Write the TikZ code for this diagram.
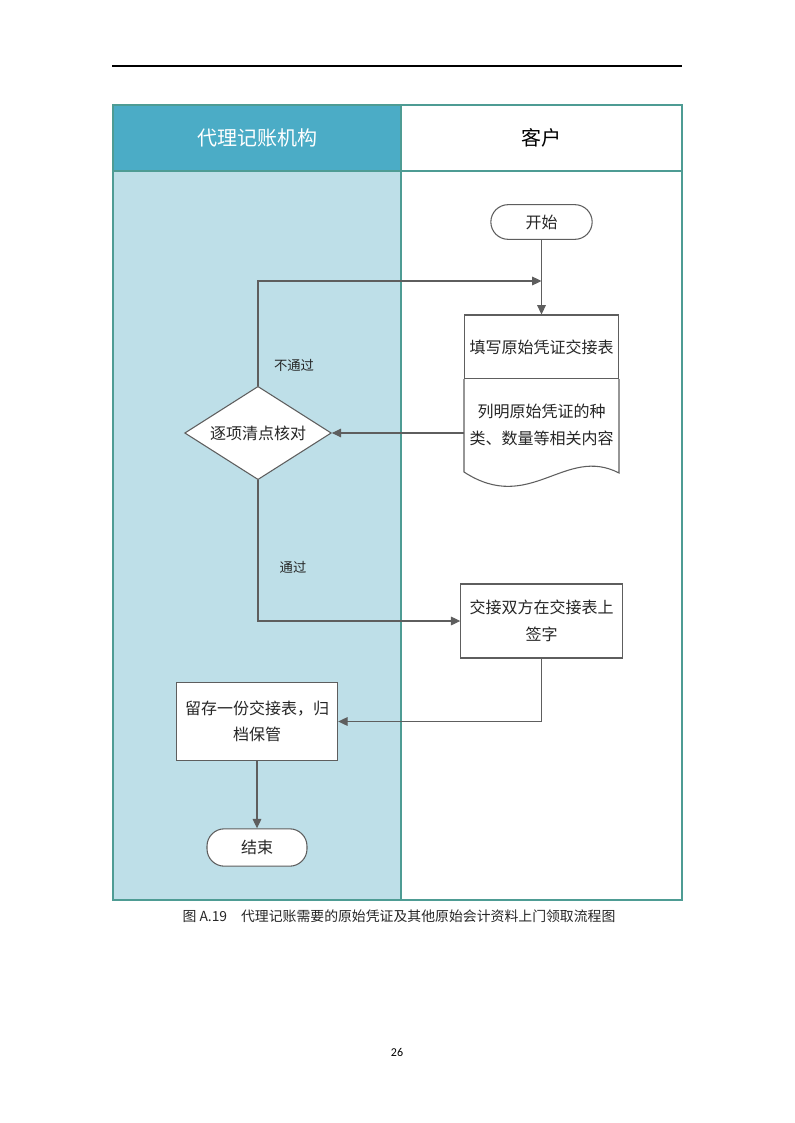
\documentclass[tikz,border=0pt]{standalone}
\usepackage{fontspec}
\setmainfont{Noto Sans CJK SC}
\newfontfamily\pagefont{Carlito}
\usetikzlibrary{shapes.geometric,arrows.meta}
\definecolor{lanedark}{HTML}{4BACC6}
\definecolor{lanelight}{HTML}{BEDFE8}
\definecolor{laneline}{HTML}{4E9C94}
\definecolor{flowline}{HTML}{5E5E5E}
\newcommand{\flowfont}{\fontsize{12}{20}\selectfont}
\tikzset{
	flowbox/.style={draw=flowline, fill=white, line width=0.8pt, align=center, font=\flowfont, text=black!85, inner sep=2pt},
	terminal/.style={flowbox, rounded corners=13pt},
	check/.style={flowbox, diamond, aspect=1.55, inner sep=1pt, minimum width=110pt, minimum height=70pt},
	arr/.style={draw=flowline, line width=0.8pt, -{Triangle[length=7pt,width=6.5pt]}},
	note/.style={font=\fontsize{10}{12}\selectfont, text=black!85}
}
\begin{document}
\begin{tikzpicture}[x=0.75pt,y=-0.75pt]
\useasboundingbox (0,0) rectangle (794,1123);
% page rule and swim lanes
\draw [line width=0.8pt] (112,66) -- (682,66);
\fill [lanelight] (113,171) rectangle (401,900);
\fill [lanedark] (113,105) rectangle (401,171);
\draw [laneline, line width=1pt] (113,105) rectangle (682,900);
\draw [laneline, line width=1pt] (401,105) -- (401,900);
\draw [laneline, line width=1pt] (113,171) -- (682,171);
\node (agency) [font=\fontsize{15}{18}\selectfont, text=white] at (257,138) {代理记账机构};
\node (client) [font=\fontsize{15}{18}\selectfont] at (541,138) {客户};

% flow nodes
\node (start) [terminal, minimum width=76pt, minimum height=26pt] at (541.5,222) {开始};
\node (fillform) [flowbox, minimum width=116pt, minimum height=48pt] at (541.5,347) {填写原始凭证交接表};
	\draw [draw=flowline, fill=white, line width=0.8pt]
	  (464,379) --
	  (464,472) .. controls (530,515) and (565,445) .. (619,473) --
	  (619,379);
\node (listform) [align=center, font=\flowfont, text=black!85] at (541.5,425) {列明原始凭证的种\\类、数量等相关内容};
\node (verify) [check] at (258,433) {逐项清点核对};
\node (sign) [flowbox, minimum width=121pt, minimum height=55.5pt] at (541.5,621) {交接双方在交接表上\\签字};
\node (archive) [flowbox, minimum width=121pt, minimum height=59pt] at (257,721.5) {留存一份交接表，归\\档保管};
\node (finish) [terminal, minimum width=75pt, minimum height=28pt] at (257,847.5) {结束};
\coordinate (back) at (541.5,281);

% connectors
\draw [arr] (start) -- (fillform);
\draw [arr] (verify.north) |- (back);
\draw [arr] (verify.east -| fillform.west) -- (verify.east);
\draw [arr] (verify.south) |- (sign.west);
\draw [arr] (sign.south) |- (archive.east);
\draw [arr] (archive) -- (finish);
\node (nopass) [note] at (294,365) {不通过};
\node (pass) [note] at (293,567) {通过};

% caption and page number
\node (caption) [font=\fontsize{10.4}{12}\selectfont, text=black!85] at (399,916) {图 A.19　代理记账需要的原始凭证及其他原始会计资料上门领取流程图};
\node (pageno) [font=\pagefont\fontsize{9}{11}\selectfont] at (397,1052) {26};
\end{tikzpicture}
\end{document}
